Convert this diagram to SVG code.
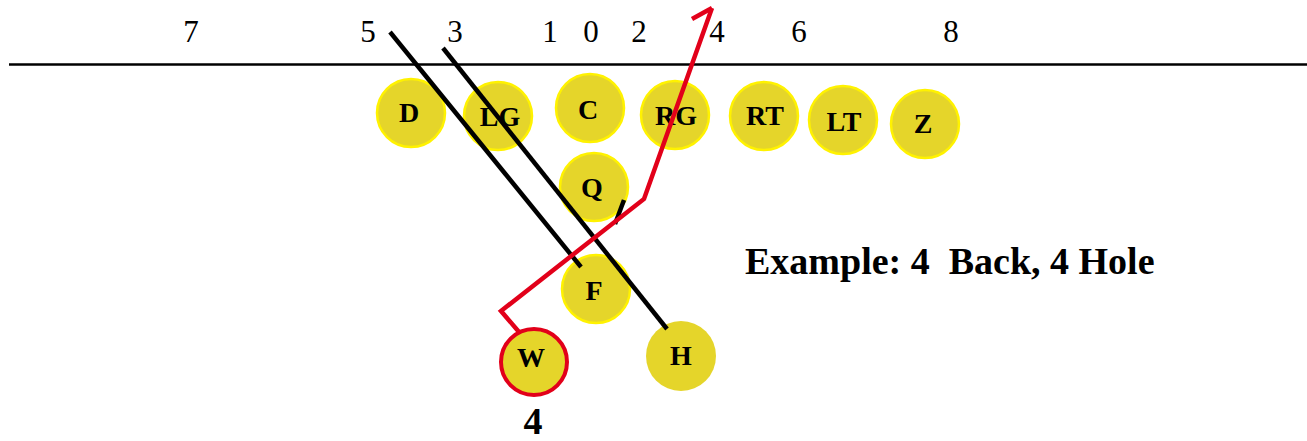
<svg xmlns="http://www.w3.org/2000/svg" width="1307" height="441" viewBox="0 0 1307 441">
<style>
.p{fill:#E5D52A;stroke:#FFF200;stroke-width:2.5}
.lbl{font-family:"Liberation Serif",serif;font-weight:bold;font-size:28px;text-anchor:middle;fill:#000}
.num{font-family:"Liberation Serif",serif;font-size:31px;text-anchor:middle;fill:#000}
.big{font-family:"Liberation Serif",serif;font-weight:bold;font-size:38px;fill:#000;white-space:pre}
.blk{fill:none;stroke:#000;stroke-width:4.5}
.red{fill:none;stroke:#E2001A;stroke-width:4.5}
</style>
<rect width="1307" height="441" fill="#fff"/>
<g id="holes">
<text class="num" x="191" y="42">7</text>
<text class="num" x="368" y="42">5</text>
<text class="num" x="455" y="42">3</text>
<text class="num" x="550" y="42">1</text>
<text class="num" x="591" y="42">0</text>
<text class="num" x="639" y="42">2</text>
<text class="num" x="717" y="42">4</text>
<text class="num" x="799" y="42">6</text>
<text class="num" x="951" y="42">8</text>
</g>
<line x1="9" y1="64.5" x2="1307" y2="64.5" stroke="#000" stroke-width="2.5"/>
<g id="D"><circle class="p" cx="411" cy="113" r="34"/><text class="lbl" x="409" y="122">D</text></g>
<g id="LG"><circle class="p" cx="498" cy="116" r="34"/><text class="lbl" x="500" y="126">LG</text></g>
<g id="C"><circle class="p" cx="590" cy="108" r="34"/><text class="lbl" x="588" y="119">C</text></g>
<g id="RG"><circle class="p" cx="675" cy="115" r="34"/><text class="lbl" x="676" y="125">RG</text></g>
<g id="RT"><circle class="p" cx="764" cy="116" r="34"/><text class="lbl" x="765" y="125">RT</text></g>
<g id="LT"><circle class="p" cx="843" cy="120" r="34"/><text class="lbl" x="844" y="131">LT</text></g>
<g id="Z"><circle class="p" cx="925" cy="124" r="34"/><text class="lbl" x="923" y="133">Z</text></g>
<g id="Q"><circle class="p" cx="594" cy="187" r="34"/><text class="lbl" x="592" y="197">Q</text></g>
<g id="F"><circle class="p" cx="596" cy="289" r="34"/><text class="lbl" x="594" y="300">F</text></g>
<g id="W"><circle cx="534" cy="362" r="33" fill="#E5D52A" stroke="#E2001A" stroke-width="4"/><text class="lbl" x="531" y="367">W</text></g>
<g id="H"><circle cx="681" cy="356" r="35" fill="#E5D52A"/><text class="lbl" x="681" y="365">H</text></g>
<g id="connectors">
<line class="blk" x1="390" y1="32" x2="581" y2="267"/>
<line class="blk" x1="443" y1="48" x2="667" y2="329"/>
<line class="blk" x1="624" y1="200" x2="615" y2="224"/>
<polyline class="red" points="519,332 501,311 644,199 712,8"/>
<polyline class="red" stroke-width="5.5" points="692,19 712,8"/>
</g>
<text class="big" x="745" y="274" xml:space="preserve">Example: 4  Back, 4 Hole</text>
<text class="big" x="533" y="434" font-size="33" text-anchor="middle">4</text>
</svg>
